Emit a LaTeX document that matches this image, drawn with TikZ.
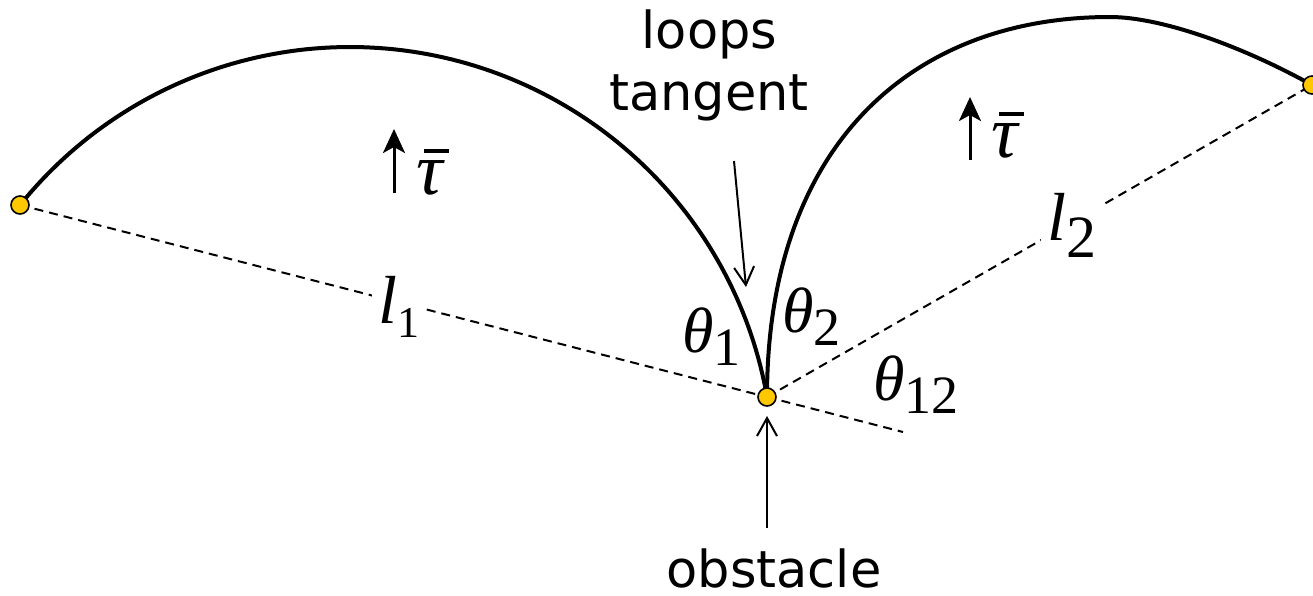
\documentclass[tikz,border=0pt]{standalone}
\usepackage{fontspec}
\setmainfont{DejaVu Sans}
\newfontfamily\tms{Liberation Serif}
\usetikzlibrary{arrows.meta}
\definecolor{dotc}{RGB}{255,200,0}
\newcommand\mi[1]{{\tms\itshape #1}}
\newcommand\sbs[3]{\raisebox{-#1}{\tms\fontsize{#2}{#2}\selectfont #3}}
\newcommand\taubar{{\tms\itshape\rlap{\hspace{0.1em}\rule[0.56em]{0.34em}{0.05em}}τ}}
\begin{document}
\begin{tikzpicture}[x=0.5pt,y=-0.5pt,
  curve/.style={line width=2pt},
  dashln/.style={line width=1pt, dash pattern=on 4.5pt off 3pt},
  dot/.style={circle, fill=dotc, draw=black, line width=0.8pt, minimum size=9pt, inner sep=0pt},
  callout/.style={line width=1pt, -{Straight Barb[length=9pt,width=10pt]}},
  tauarrow/.style={line width=1.5pt, -{Stealth[length=12pt,width=11pt,inset=3pt]}},
  sans/.style={font=\fontsize{25.5}{31}\selectfont, anchor=base, inner sep=0pt},
  lab/.style={font=\fontsize{32}{32}\selectfont, inner sep=0pt, anchor=base west},
  llab/.style={font=\fontsize{34}{34}\selectfont, inner sep=0pt, inner xsep=3pt, anchor=base west, fill=white},
  taulab/.style={font=\fontsize{37}{37}\selectfont, inner sep=0pt, anchor=base west},
]
\useasboundingbox (0,0) rectangle (1313,595);
% key points
\coordinate (A) at (20,205);
\coordinate (O) at (767,397);
\coordinate (B) at (1312,85);
\coordinate (E) at (903,432);
\coordinate (T) at (1110,17);
% dashed chords
\draw[dashln] (A) -- (O);
\draw[dashln] (O) -- (B);
\draw[dashln] (O) -- (E);
% loops
\draw[curve] plot[domain=218.8:350, samples=120] ({350+423.5*cos(\x)},{470.5+423.5*sin(\x)});
\draw[curve] (O) .. controls (767,147) and (910,17) .. (T)
                 .. controls (1160,17) and (1240,45) .. (B);
% labels on chords
\node[llab] (l1) at (372,323) {\mi{l}\sbs{7pt}{22}{1}};
\node[llab] (l2) at (1041,240) {\mi{l}\sbs{8.5pt}{30}{2}};
% angles
\node[lab] (th1) at (682,352) {\mi{θ}\sbs{6.5pt}{27}{1}};
\node[lab] (th2) at (782,332) {\mi{θ}\sbs{6.5pt}{27}{2}};
\node[lab] (th12) at (873,400) {\mi{θ}\sbs{6.5pt}{27}{12}};
% tau arrows
\coordinate (ta1s) at (394,193);
\coordinate (ta1e) at (394,129);
\coordinate (ta2s) at (970,160);
\coordinate (ta2e) at (970,97);
\draw[tauarrow] (ta1s) -- (ta1e);
\draw[tauarrow] (ta2s) -- (ta2e);
\node[taulab] (tau1) at (416,194) {\taubar};
\node[taulab] (tau2) at (991,157) {\taubar};
% annotations
\node[sans] (loops) at (709.5,48) {loops};
\node[sans] (tangent) at (709,110) {tangent};
\node[sans] (obst) at (774,587) {obstacle};
\coordinate (ltS) at (734,161);
\coordinate (ltE) at (746,287);
\draw[callout] (ltS) -- (ltE);
\coordinate (obS) at (767,528);
\coordinate (obE) at (767,416);
\draw[callout] (obS) -- (obE);
% points
\node[dot] (dA) at (A) {};
\node[dot] (dO) at (O) {};
\node[dot] (dB) at (B) {};
\end{tikzpicture}
\end{document}
